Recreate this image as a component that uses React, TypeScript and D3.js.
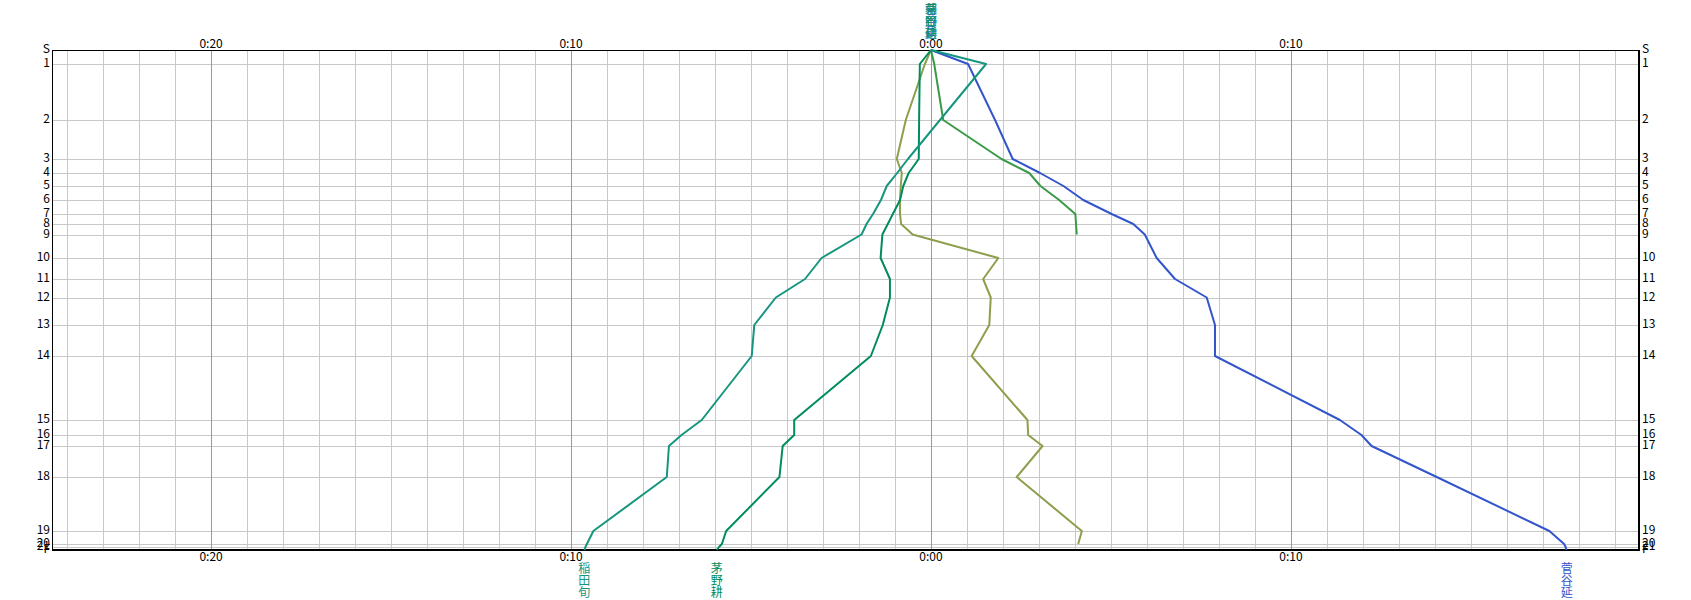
import React from 'react';
import * as d3 from 'd3';

// Stations along the course and their cumulative course position (arbitrary units, F = 500)
const stations = ['S', '1', '2', '3', '4', '5', '6', '7', '8', '9', '10', '11', '12', '13', '14', '15', '16', '17', '18', '19', '20', '21', 'F'];
const stationDist = [0, 14, 70, 109, 123, 136, 150, 164, 174, 184.5, 208, 229, 247.5, 275, 306, 370, 385, 396, 427, 481, 494, 497, 500];

// Time difference to reference (minutes); negative = left of 0:00
const inadaJun = [0, 1.53, 0.25, -0.64, -0.94, -1.23, -1.39, -1.61, -1.79, -1.93, -3.04, -3.5, -4.31, -4.91, -4.98, -6.37, -6.93, -7.28, -7.34, -9.38, -9.56, -9.6, -9.63];
const chinoKo = [0, -0.31, -0.33, -0.34, -0.62, -0.77, -0.86, -1.06, -1.2, -1.35, -1.4, -1.14, -1.14, -1.34, -1.67, -3.8, -3.8, -4.12, -4.21, -5.69, -5.81, -5.89, -5.95];
const sugayaEn = [0, 1.03, 1.78, 2.27, 3.03, 3.68, 4.23, 5.02, 5.62, 5.94, 6.27, 6.78, 7.66, 7.89, 7.89, 11.36, 11.96, 12.24, 14.05, 17.18, 17.59, 17.63, 17.66];
const oliveRunner = [0, -0.17, -0.7, -0.95, -0.81, -0.84, -0.86, -0.86, -0.83, -0.51, 1.87, 1.45, 1.66, 1.62, 1.13, 2.68, 2.7, 3.1, 2.38, 4.19, 4.09];
const greenRunner = [0, 0.09, 0.34, 1.96, 2.73, 3.04, 3.56, 4.01, 4.03, 4.05];

const series = [
  { name: '', values: oliveRunner, color: '#8c9f4c', finished: false },
  { name: '', values: greenRunner, color: '#3a9a48', finished: false },
  { name: '菅谷延', values: sugayaEn, color: '#3355cc', finished: true },
  { name: '茅野耕', values: chinoKo, color: '#008c5c', finished: true },
  { name: '稲田旬', values: inadaJun, color: '#16967e', finished: true },
];

const xDomain = [-24.42, 19.67];
const minuteTicks = d3.range(-24, 20, 1);
const labelTicks = [-20, -10, 0, 10];

const W = 1691;
const H = 600;
const L = 52, R = 1639, T = 50, B = 550;

const fmt = (m: number) => `0:${String(Math.abs(m)).padStart(2, '0')}`;

export default function App() {
  const x = d3.scaleLinear().domain(xDomain).range([L, R]);
  const y = d3.scaleLinear().domain([0, 500]).range([T, B]);
  const font = '"Noto Sans CJK JP", "DejaVu Sans", sans-serif';
  const line = d3.line<number>().x((v) => x(v)).y((_, i) => y(stationDist[i]));

  return (
    <svg width={W} height={H} style={{ position: 'absolute', left: 0, top: 0, background: '#fff' }} fontFamily={font}>
      <rect x={0} y={0} width={W} height={H} fill="#fff" />
      {/* horizontal station grid */}
      {stationDist.map((d, i) => (
        <line key={'h' + i} x1={L} x2={R} y1={Math.round(y(d)) + 0.5} y2={Math.round(y(d)) + 0.5} stroke="#c8c8c8" strokeWidth={1} />
      ))}
      {/* vertical minute grid */}
      {minuteTicks.map((m) => (
        <line key={'v' + m} x1={Math.round(x(m)) + 0.5} x2={Math.round(x(m)) + 0.5} y1={T} y2={B}
          stroke={m % 10 === 0 ? '#9a9a9a' : '#c8c8c8'} strokeWidth={1} />
      ))}
      {/* frame */}
      <line x1={L} x2={R} y1={T + 0.5} y2={T + 0.5} stroke="#000" strokeWidth={1} />
      <line x1={L + 0.5} x2={L + 0.5} y1={T} y2={B} stroke="#000" strokeWidth={1} />
      <line x1={L} x2={R + 1} y1={B} y2={B} stroke="#000" strokeWidth={2} />
      <line x1={R} x2={R} y1={T} y2={B + 1} stroke="#000" strokeWidth={2} />

      {/* x labels top & bottom */}
      {labelTicks.map((m) => (
        <g key={'xl' + m} fontSize={12} textAnchor="middle" fill="#000">
          <text x={x(m)} y={48}>{fmt(m)}</text>
          <text x={x(m)} y={561}>{fmt(m)}</text>
        </g>
      ))}

      {/* station labels left & right */}
      {stations.map((s, i) => (
        <g key={'sl' + i} fontSize={12} fill="#000" dominantBaseline="middle">
          <text x={50} y={y(stationDist[i])} textAnchor="end">{s}</text>
          <text x={1642} y={y(stationDist[i])} textAnchor="start">{s}</text>
        </g>
      ))}

      {/* series lines */}
      {series.map((s, k) => (
        <path key={'p' + k} d={line(s.values) || ''} fill="none" stroke={s.color} strokeWidth={2} strokeLinejoin="round" />
      ))}

      {/* names at top (overlapping at 0:00) */}
      {series.filter((s) => s.finished).map((s, k) => (
        <g key={'tn' + k} fontSize={12} textAnchor="middle" fill={s.color}>
          {Array.from(s.name).map((c, j) => (
            <text key={j} x={x(s.values[0])} y={14 + j * 12}>{c}</text>
          ))}
        </g>
      ))}

      {/* names at finish */}
      {series.filter((s) => s.finished).map((s, k) => (
        <g key={'bn' + k} fontSize={12} textAnchor="middle" fill={s.color}>
          {Array.from(s.name).map((c, j) => (
            <text key={j} x={x(s.values[s.values.length - 1])} y={573 + j * 12}>{c}</text>
          ))}
        </g>
      ))}
    </svg>
  );
}
